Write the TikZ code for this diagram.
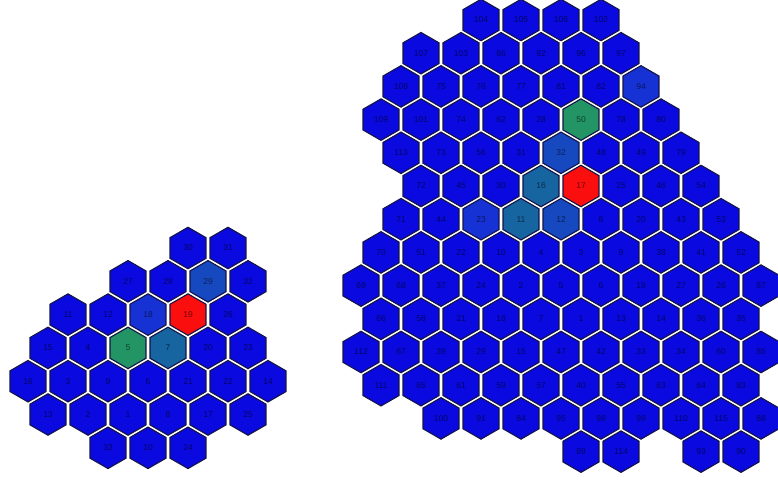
\documentclass[tikz,border=0pt]{standalone}
\usepackage{fontspec}
\setsansfont{Liberation Sans}
\usetikzlibrary{shapes.geometric}

\definecolor{hexblue}{RGB}{10,10,224}
\definecolor{hexblueB}{RGB}{22,50,212}
\definecolor{hexmid}{RGB}{22,72,192}
\definecolor{hexteal}{RGB}{22,100,160}
\definecolor{hexgreen}{RGB}{35,148,100}
\definecolor{hexred}{RGB}{250,14,14}
\definecolor{hexline}{RGB}{20,20,72}

\tikzset{
  cell/.style={regular polygon, regular polygon sides=6, shape border rotate=90,
    minimum size=41.5pt, inner sep=0pt, draw=hexline, line width=1.1pt, fill=hexblue,
    font=\sffamily\fontsize{8.5}{9}\selectfont, text=black, text opacity=0.55},
}

\begin{document}
\begin{tikzpicture}[x=1pt, y=-1pt]
  \useasboundingbox (0,0) rectangle (778,482);

  % Left grid: small cluster
  \begin{scope}[shift={(28pt,-248pt)}, x=20pt, y=-33.3pt]
    \foreach \k/\n in {8/30,10/31} \node[cell] (a\n) at (\k,0) {\n};
    \foreach \k/\n in {5/27,7/28,11/32} \node[cell] (a\n) at (\k,1) {\n};
    \node[cell, fill=hexmid] (a29) at (9,1) {29};
    \foreach \k/\n in {2/11,4/12,10/26} \node[cell] (a\n) at (\k,2) {\n};
    \node[cell, fill=hexblueB] (a18) at (6,2) {18};
    \node[cell, fill=hexred] (a19) at (8,2) {19};
    \foreach \k/\n in {1/15,3/4,9/20,11/23} \node[cell] (a\n) at (\k,3) {\n};
    \node[cell, fill=hexgreen] (a5) at (5,3) {5};
    \node[cell, fill=hexteal] (a7) at (7,3) {7};
    \foreach \k/\n in {0/16,2/3,4/9,6/6,8/21,10/22,12/14} \node[cell] (a\n) at (\k,4) {\n};
    \foreach \k/\n in {1/13,3/2,5/1,7/8,9/17,11/25} \node[cell] (a\n) at (\k,5) {\n};
    \foreach \k/\n in {4/33,6/10,8/24} \node[cell] (a\n) at (\k,6) {\n};
  \end{scope}

  % Right grid: large cluster
  \begin{scope}[shift={(361pt,-20pt)}, x=20pt, y=-33.2pt]
    \foreach \k/\n in {6/104,8/105,10/106,12/102} \node[cell] (b\n) at (\k,0) {\n};
    \foreach \k/\n in {3/107,5/103,7/86,9/92,11/96,13/97} \node[cell] (b\n) at (\k,1) {\n};
    \foreach \k/\n in {2/108,4/75,6/76,8/77,10/81,12/82} \node[cell] (b\n) at (\k,2) {\n};
    \node[cell, fill=hexblueB] (b94) at (14,2) {94};
    \foreach \k/\n in {1/109,3/101,5/74,7/62,9/28,13/78,15/80} \node[cell] (b\n) at (\k,3) {\n};
    \node[cell, fill=hexgreen] (b50) at (11,3) {50};
    \foreach \k/\n in {2/113,4/73,6/56,8/31,12/48,14/49,16/79} \node[cell] (b\n) at (\k,4) {\n};
    \node[cell, fill=hexmid] (b32) at (10,4) {32};
    \foreach \k/\n in {3/72,5/45,7/30,13/25,15/46,17/54} \node[cell] (b\n) at (\k,5) {\n};
    \node[cell, fill=hexteal] (b16) at (9,5) {16};
    \node[cell, fill=hexred] (b17) at (11,5) {17};
    \foreach \k/\n in {2/71,4/44,12/8,14/20,16/43,18/53} \node[cell] (b\n) at (\k,6) {\n};
    \node[cell, fill=hexblueB] (b23) at (6,6) {23};
    \node[cell, fill=hexteal] (b11) at (8,6) {11};
    \node[cell, fill=hexmid] (b12) at (10,6) {12};
    \foreach \k/\n in {1/70,3/51,5/22,7/10,9/4,11/3,13/9,15/38,17/41,19/52} \node[cell] (b\n) at (\k,7) {\n};
    \foreach \k/\n in {0/69,2/68,4/37,6/24,8/2,10/5,12/6,14/19,16/27,18/26,20/87} \node[cell] (b\n) at (\k,8) {\n};
    \foreach \k/\n in {1/66,3/58,5/21,7/18,9/7,11/1,13/13,15/14,17/36,19/35} \node[cell] (b\n) at (\k,9) {\n};
    \foreach \k/\n in {0/112,2/67,4/39,6/29,8/15,10/47,12/42,14/33,16/34,18/60,20/85} \node[cell] (b\n) at (\k,10) {\n};
    \foreach \k/\n in {1/111,3/65,5/61,7/59,9/57,11/40,13/55,15/63,17/64,19/83} \node[cell] (b\n) at (\k,11) {\n};
    \foreach \k/\n in {4/100,6/91,8/84,10/95,12/98,14/99,16/110,18/115,20/88} \node[cell] (b\n) at (\k,12) {\n};
    \foreach \k/\n in {11/89,13/114,17/93,19/90} \node[cell] (b\n) at (\k,13) {\n};
  \end{scope}
\end{tikzpicture}
\end{document}
